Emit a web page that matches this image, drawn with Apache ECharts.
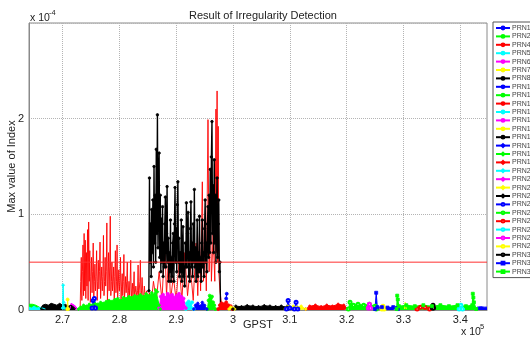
<!DOCTYPE html>
<html>
<head>
<meta charset="utf-8">
<script src="https://cdn.jsdelivr.net/npm/echarts@6/dist/echarts.min.js"></script>
<style>
  html, body { margin: 0; padding: 0; background: #fff; }
  #chart { width: 530px; height: 338px; }
</style>
</head>
<body>
<div id="chart"></div>
<script>
// x in units of 1e5 s (GPST), y in units of 1e-4
var xMin = 2.641, xMax = 3.447;
var xTickValues = [2.7, 2.8, 2.9, 3.0, 3.1, 3.2, 3.3, 3.4];
var threshold = 0.5;

var prnNames = ['PRN1', 'PRN2', 'PRN4', 'PRN5', 'PRN6', 'PRN7', 'PRN8', 'PRN10', 'PRN11', 'PRN12',
  'PRN13', 'PRN14', 'PRN15', 'PRN16', 'PRN17', 'PRN18', 'PRN19', 'PRN20', 'PRN21', 'PRN22',
  'PRN23', 'PRN24', 'PRN25', 'PRN26', 'PRN27', 'PRN28', 'PRN29', 'PRN30', 'PRN31', 'PRN32'];

var prn1 = [[3.426, 0.01], [3.430, 0.03], [3.436, 0.035], [3.442, 0.03], [3.447, 0.03]];
var prn2 = [[2.641, 0.06], [2.644, 0.08], [2.647, 0.06], [2.650, 0.07], [2.653, 0.05], [2.656, 0.06], [2.659, 0.03], [2.662, 0.01]];
var prn4 = [[2.731, 0.02], [2.732, 0.3], [2.733, 0.55], [2.734, 0.1], [2.735, 0.4], [2.736, 0.68], [2.737, 0.15],
  [2.738, 0.80], [2.739, 0.2], [2.740, 0.73], [2.741, 0.12], [2.742, 0.60], [2.743, 0.25], [2.744, 0.84], [2.745, 0.1],
  [2.746, 0.92], [2.747, 0.3], [2.748, 0.62], [2.749, 0.08], [2.750, 0.35], [2.751, 0.55], [2.752, 0.18], [2.753, 0.4],
  [2.754, 0.70], [2.755, 0.12], [2.756, 0.3], [2.757, 0.48], [2.758, 0.2], [2.759, 0.35], [2.760, 0.62], [2.761, 0.1],
  [2.762, 0.3], [2.763, 0.52], [2.764, 0.22], [2.765, 0.4], [2.766, 0.71], [2.767, 0.12], [2.768, 0.3], [2.769, 0.45],
  [2.770, 0.2], [2.771, 0.35], [2.772, 0.78], [2.773, 0.15], [2.774, 0.3], [2.775, 0.55], [2.776, 0.25], [2.777, 0.4],
  [2.778, 0.91], [2.779, 0.1], [2.780, 0.3], [2.781, 0.6], [2.782, 0.2], [2.783, 0.45], [2.784, 0.98], [2.785, 0.15],
  [2.786, 0.3], [2.787, 0.5], [2.788, 0.2], [2.789, 0.3], [2.790, 0.45], [2.791, 0.1], [2.792, 0.35], [2.793, 0.62],
  [2.794, 0.18], [2.795, 0.3], [2.796, 0.68], [2.797, 0.12], [2.798, 0.25], [2.799, 0.42], [2.800, 0.2], [2.801, 0.3],
  [2.802, 0.55], [2.803, 0.1], [2.804, 0.25], [2.805, 0.38], [2.806, 0.15], [2.807, 0.3], [2.808, 0.58], [2.809, 0.12],
  [2.810, 0.2], [2.811, 0.35], [2.812, 0.18], [2.813, 0.3], [2.814, 0.5], [2.815, 0.1], [2.816, 0.2], [2.817, 0.3],
  [2.818, 0.15], [2.819, 0.3], [2.820, 0.52], [2.821, 0.1], [2.822, 0.2], [2.823, 0.28], [2.824, 0.12], [2.825, 0.25],
  [2.826, 0.4], [2.827, 0.08], [2.828, 0.18], [2.829, 0.25], [2.831, 0.12], [2.832, 0.2], [2.833, 0.47], [2.834, 0.1],
  [2.835, 0.2], [2.836, 0.3], [2.837, 0.52], [2.838, 0.1], [2.839, 0.2], [2.840, 0.34], [2.842, 0.08], [2.843, 0.15],
  [2.844, 0.25], [2.846, 0.1], [2.848, 0.2], [2.850, 0.08], [2.853, 0.18], [2.856, 0.06],
  [2.860, 0.3], [2.865, 0.1], [2.870, 0.4], [2.875, 0.1], [2.880, 0.7], [2.883, 0.15], [2.887, 0.6],
  [2.890, 0.1], [2.895, 0.35], [2.900, 0.1], [2.905, 0.5], [2.910, 0.1], [2.915, 0.6], [2.920, 0.15],
  [2.925, 0.45], [2.930, 0.1], [2.935, 0.7], [2.938, 0.15], [2.941, 0.8], [2.943, 0.2], [2.946, 1.34],
  [2.948, 0.3], [2.951, 0.9], [2.953, 0.2], [2.956, 1.99], [2.958, 0.4], [2.960, 1.2], [2.962, 0.3],
  [2.965, 0.8], [2.968, 0.3], [2.970, 2.1], [2.971, 0.6], [2.972, 2.29], [2.973, 0.5], [2.974, 1.92],
  [2.975, 0.4], [2.977, 0.2], [2.980, 0.05]];
var prn5 = [[2.641, 0.03], [2.645, 0.02], [2.650, 0.04], [2.655, 0.02], [2.660, 0.03], [2.665, 0.02], [2.670, 0.01]];
var prn6 = [[2.713, 0.01], [2.715, 0.07], [2.718, 0.08], [2.721, 0.05], [2.724, 0.07], [2.727, 0.01]];
var prn7 = [[3.302, 0.01], [3.303, 0.08], [3.305, 0.01]];
var prn8 = [[2.661, 0.01], [2.665, 0.05], [2.670, 0.06], [2.675, 0.05], [2.680, 0.07], [2.685, 0.06], [2.690, 0.05],
  [2.695, 0.07], [2.700, 0.05], [2.705, 0.06], [2.710, 0.04], [2.715, 0.05], [2.720, 0.03], [2.723, 0.01]];
var prn10 = [[2.988, 0.12], [2.989, 0.17]];
var prn11 = [[2.955, 0.01], [2.957, 0.1], [2.959, 0.15], [2.961, 0.12], [2.963, 0.14], [2.965, 0.08], [2.967, 0.05], [2.969, 0.01]];
var prn12 = [[2.974, 0.01], [2.977, 0.05], [2.980, 0.07], [2.984, 0.06], [2.988, 0.08], [2.992, 0.05], [2.996, 0.04], [2.999, 0.01]];
var prn13 = [[2.917, 0.01], [2.919, 0.07], [2.922, 0.09], [2.925, 0.06], [2.928, 0.08], [2.931, 0.01]];
var prn14 = [[2.870, 0.02], [2.873, 0.14], [2.877, 0.16], [2.881, 0.13], [2.885, 0.17], [2.889, 0.15], [2.893, 0.16],
  [2.897, 0.13], [2.901, 0.15], [2.905, 0.17], [2.909, 0.14], [2.913, 0.12], [2.917, 0.02]];
var prn15 = [[2.708, 0.01], [2.709, 0.11], [2.710, 0.01]];
var prn16 = [[2.852, 0.2], [2.853, 1.38], [2.854, 0.5], [2.855, 0.9], [2.856, 0.35], [2.857, 1.05], [2.858, 0.6],
  [2.859, 1.15], [2.860, 0.45], [2.861, 1.5], [2.862, 0.7], [2.863, 1.2], [2.864, 0.5], [2.865, 1.68], [2.866, 0.8],
  [2.867, 2.04], [2.868, 0.65], [2.869, 1.3], [2.870, 1.64], [2.871, 0.55], [2.872, 1.2], [2.873, 0.4], [2.874, 0.95],
  [2.875, 0.5], [2.876, 1.08], [2.877, 0.35], [2.878, 0.7], [2.879, 0.45], [2.880, 0.9], [2.881, 1.18], [2.882, 0.45],
  [2.883, 0.8], [2.884, 1.29], [2.885, 0.5], [2.886, 0.75], [2.887, 0.3], [2.888, 0.6], [2.889, 0.4], [2.890, 0.94],
  [2.891, 0.3], [2.892, 0.55], [2.893, 0.35], [2.894, 0.7], [2.895, 0.8], [2.896, 0.3], [2.897, 0.9], [2.898, 1.28],
  [2.899, 0.5], [2.900, 0.85], [2.901, 0.4], [2.902, 1.1], [2.903, 1.34], [2.904, 0.5], [2.905, 0.75], [2.906, 0.35],
  [2.907, 0.6], [2.908, 0.4], [2.909, 0.94], [2.910, 0.3], [2.911, 0.5], [2.912, 0.87], [2.913, 0.35], [2.914, 0.45],
  [2.915, 0.25], [2.916, 0.7], [2.917, 0.45], [2.918, 1.12], [2.919, 0.45], [2.920, 0.8], [2.921, 1.02], [2.922, 0.35],
  [2.923, 0.6], [2.924, 0.3], [2.925, 0.85], [2.926, 1.13], [2.927, 0.45], [2.928, 0.7], [2.929, 0.35], [2.930, 0.9],
  [2.931, 0.5], [2.932, 1.26], [2.933, 0.45], [2.934, 0.65], [2.935, 0.3], [2.936, 0.5], [2.937, 0.94], [2.938, 0.35],
  [2.939, 0.6], [2.940, 0.4], [2.941, 0.98], [2.942, 0.4], [2.943, 0.55], [2.944, 0.3], [2.945, 0.7], [2.946, 0.94],
  [2.947, 0.45], [2.948, 0.6], [2.949, 0.35], [2.950, 0.85], [2.951, 1.15], [2.952, 0.5], [2.953, 0.7], [2.954, 0.4],
  [2.955, 0.9], [2.956, 1.08], [2.957, 0.55], [2.958, 1.2], [2.959, 0.6], [2.960, 1.47], [2.961, 0.7], [2.962, 1.6],
  [2.963, 1.97], [2.964, 0.8], [2.965, 1.3], [2.966, 0.6], [2.967, 1.57], [2.968, 0.7], [2.969, 1.2], [2.970, 0.5],
  [2.971, 1.0], [2.972, 1.38], [2.973, 0.55], [2.974, 0.9], [2.975, 1.15], [2.976, 0.4], [2.977, 0.5], [2.978, 0.05]];
var prn17 = [[2.931, 0.01], [2.934, 0.05], [2.938, 0.07], [2.942, 0.04], [2.946, 0.08], [2.950, 0.05], [2.954, 0.01]];
var prn18 = [[2.728, 0.01], [2.732, 0.03], [2.737, 0.05], [2.742, 0.04], [2.747, 0.06], [2.752, 0.05], [2.757, 0.07],
  [2.762, 0.06], [2.767, 0.08], [2.772, 0.07], [2.777, 0.09], [2.782, 0.1], [2.787, 0.09], [2.792, 0.11], [2.797, 0.12],
  [2.802, 0.1], [2.807, 0.13], [2.812, 0.12], [2.817, 0.14], [2.822, 0.13], [2.827, 0.15], [2.832, 0.14], [2.837, 0.16],
  [2.842, 0.14], [2.847, 0.17], [2.852, 0.15], [2.857, 0.18], [2.861, 0.16], [2.864, 0.21], [2.867, 0.19], [2.870, 0.05],
  [2.872, 0.01]];
var prn19 = [[3.128, 0.01], [3.135, 0.04], [3.145, 0.05], [3.155, 0.035], [3.165, 0.05], [3.175, 0.04], [3.185, 0.06], [3.195, 0.05], [3.203, 0.01]];
var prn20 = [[2.700, 0.02], [2.701, 0.26], [2.702, 0.08], [2.703, 0.02]];
var prn21 = [];
var prn22 = [[2.993, 0.01], [2.996, 0.03], [3.000, 0.02], [3.003, 0.01], [3.05, '-'], [3.092, 0.01], [3.096, 0.04],
  [3.100, 0.03], [3.106, 0.04], [3.112, 0.03], [3.120, 0.04], [3.128, 0.01]];
var prn23 = [[3.000, 0.01], [3.005, 0.04], [3.015, 0.035], [3.025, 0.045], [3.035, 0.04], [3.045, 0.035], [3.055, 0.045],
  [3.065, 0.04], [3.075, 0.035], [3.085, 0.04], [3.095, 0.03], [3.097, 0.01]];
var prn24 = [[2.752, 0.02], [2.754, 0.1], [2.756, 0.12], [2.758, 0.02], [2.9, '-'], [3.094, 0.01], [3.097, 0.1],
  [3.100, 0.02], [3.108, 0.01], [3.111, 0.08], [3.114, 0.01]];
var prn25 = [[3.203, 0.01], [3.206, 0.08], [3.212, 0.05], [3.220, 0.06], [3.230, 0.05], [3.240, 0.06], [3.250, 0.04], [3.252, 0.01]];
var prn26 = [[3.324, 0.01], [3.330, 0.03], [3.338, 0.025], [3.346, 0.01]];
var prn27 = [[3.398, 0.01], [3.401, 0.05], [3.404, 0.01]];
var prn28 = [[3.238, 0.02], [3.240, 0.06], [3.242, 0.02]];
var prn29 = [[3.262, 0.01], [3.264, 0.04], [3.266, 0.01]];
var prn30 = [[3.351, 0.02], [3.352, 0.05], [3.353, 0.02]];
var prn31 = [[3.250, 0.01], [3.252, 0.18], [3.254, 0.03], [3.262, 0.03], [3.272, 0.025], [3.282, 0.03], [3.288, 0.02], [3.290, 0.01]];
var prn32 = [[3.288, 0.01], [3.289, 0.15], [3.290, 0.11], [3.292, 0.04], [3.305, 0.05], [3.320, 0.04], [3.335, 0.05],
  [3.350, 0.04], [3.365, 0.05], [3.380, 0.04], [3.395, 0.05], [3.410, 0.04], [3.421, 0.05], [3.422, 0.17],
  [3.423, 0.13], [3.424, 0.08], [3.428, 0.01]];

var prnData = [prn1, prn2, prn4, prn5, prn6, prn7, prn8, prn10, prn11, prn12, prn13, prn14, prn15, prn16, prn17,
  prn18, prn19, prn20, prn21, prn22, prn23, prn24, prn25, prn26, prn27, prn28, prn29, prn30, prn31, prn32];

// matlab 'bgrcmyk' colour cycle, marker changes every 7 lines
var palette = ['#0000ff', '#00ff00', '#ff0000', '#00ffff', '#ff00ff', '#ffff00', '#000000'];
var markers = ['none', 'circle', 'diamond', 'emptyCircle', 'rect'];
var spikeLines = ['PRN4', 'PRN16', 'PRN10'];

var font = 'Liberation Sans, Arial, sans-serif';

var series = prnNames.map(function (name, i) {
  var color = palette[i % 7];
  var marker = markers[Math.floor(i / 7)];
  var isSpike = spikeLines.indexOf(name) >= 0;
  var s = {
    name: name,
    type: 'line',
    data: prnData[i],
    symbol: marker,
    symbolSize: name === 'PRN16' ? 2.5 : 3,
    showSymbol: marker !== 'none',
    z: isSpike ? 2 : 3,
    lineStyle: { color: color, width: name === 'PRN4' ? 0.9 : (name === 'PRN16' ? 1.4 : 1) },
    itemStyle: { color: color, borderColor: color, borderWidth: 0.8 },
    emphasis: { disabled: true }
  };
  if (!isSpike) {
    s.areaStyle = { color: color, opacity: 1 };
  }
  return s;
});

series.push({
  name: 'Threshold',
  type: 'line',
  data: [[xMin, threshold], [xMax, threshold]],
  symbol: 'none',
  z: 5,
  lineStyle: { color: '#ff3030', width: 1 },
  emphasis: { disabled: true }
});

var chart = echarts.init(document.getElementById('chart'));
chart.setOption({
  animation: false,
  title: {
    text: 'Result of Irregularity Detection',
    left: 258,
    top: 5,
    textAlign: 'center',
    textStyle: { fontSize: 11, fontWeight: 'normal', color: '#222', fontFamily: font }
  },
  legend: {
    orient: 'vertical',
    left: 493,
    top: 22,
    data: prnNames,
    itemWidth: 14,
    itemHeight: 3.5,
    itemGap: 0.4,
    padding: [2, 3, 2, 2],
    borderColor: '#555',
    borderWidth: 1,
    backgroundColor: '#fff',
    selectedMode: false,
    textStyle: { fontSize: 7, lineHeight: 8, color: '#444', fontFamily: font, padding: [0, 0, 0, -3] }
  },
  grid: {
    left: 29,
    right: 43,
    top: 23,
    bottom: 28,
    outerBoundsMode: 'none',
    containLabel: false,
    show: true,
    borderColor: '#8a8a8a',
    borderWidth: 1
  },
  xAxis: {
    type: 'value',
    min: xMin,
    max: xMax,
    name: 'GPST',
    nameLocation: 'middle',
    nameGap: 9,
    nameMoveOverlap: false,
    nameTextStyle: { fontSize: 11, color: '#222', fontFamily: font, verticalAlign: 'top' },
    axisLine: { lineStyle: { color: '#8a8a8a' } },
    axisTick: { show: false, customValues: xTickValues },
    axisLabel: { customValues: xTickValues, fontSize: 11, color: '#222', margin: 4, fontFamily: font },
    splitLine: { show: true, lineStyle: { color: '#b4b4b4', type: 'dotted', width: 1 } }
  },
  yAxis: {
    type: 'value',
    min: 0,
    max: 3,
    interval: 1,
    name: 'Max value of Index',
    nameLocation: 'middle',
    nameGap: 12,
    nameMoveOverlap: false,
    nameTextStyle: { fontSize: 11, color: '#222', fontFamily: font },
    axisLine: { show: true, lineStyle: { color: '#8a8a8a' } },
    axisTick: { show: false },
    axisLabel: { showMaxLabel: false, fontSize: 11, color: '#222', margin: 5, fontFamily: font },
    splitLine: { show: true, lineStyle: { color: '#b4b4b4', type: 'dotted', width: 1 } }
  },
  graphic: [
    { type: 'text', left: 30, top: 13, style: { text: 'x 10', fontSize: 10.5, fill: '#222', fontFamily: font } },
    { type: 'text', left: 49, top: 9, style: { text: '-4', fontSize: 7.5, fill: '#222', fontFamily: font } },
    { type: 'text', left: 461, top: 327, style: { text: 'x 10', fontSize: 10.5, fill: '#222', fontFamily: font } },
    { type: 'text', left: 480, top: 323, style: { text: '5', fontSize: 7.5, fill: '#222', fontFamily: font } }
  ],
  series: series
});
</script>
</body>
</html>
